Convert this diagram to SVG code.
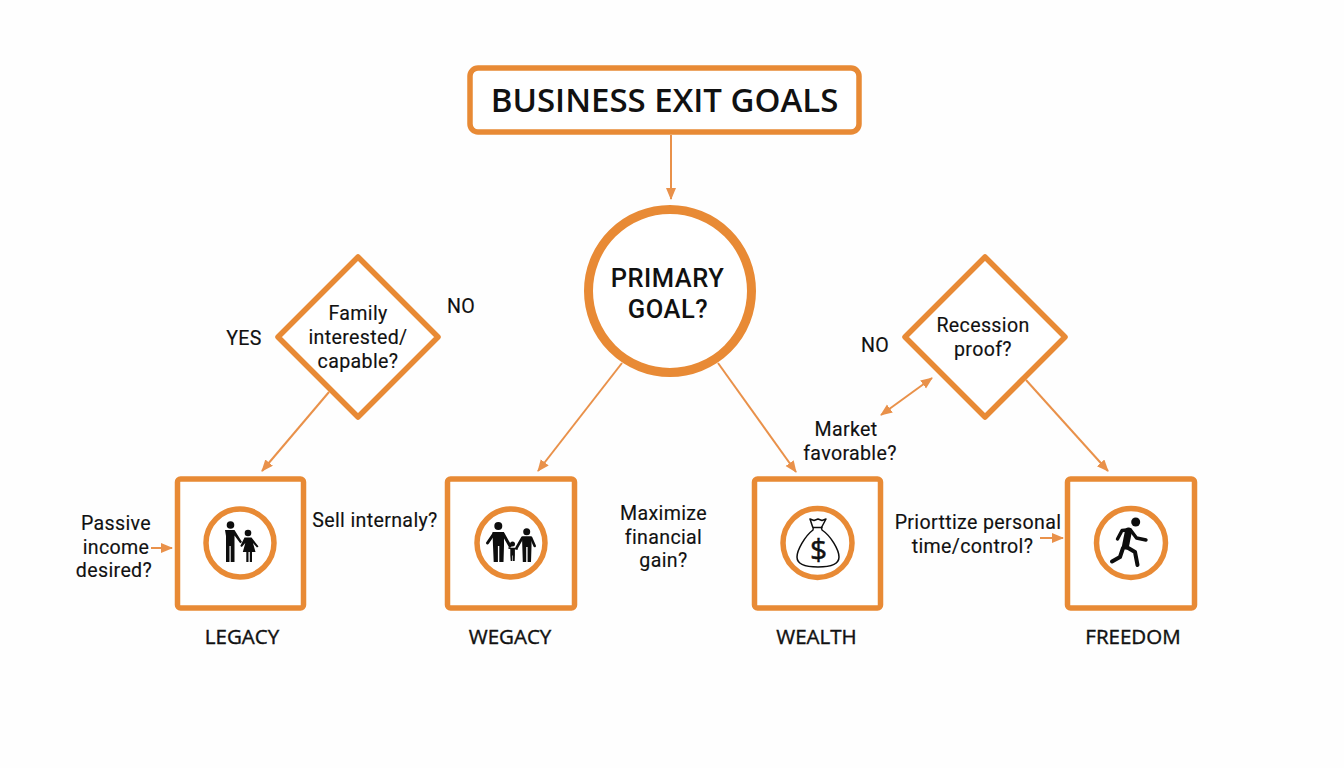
<svg xmlns="http://www.w3.org/2000/svg" width="1344" height="768" viewBox="0 0 1344 768">
<style>
.box{fill:#fff;stroke:#e88a35;stroke-width:5.5}
.ring{fill:#fff;stroke:#e88a35;stroke-width:5.5}
.conn{fill:none;stroke:#e9914a;stroke-width:2}
.t{font-family:Roboto,"Liberation Sans",sans-serif;font-size:19.6px;letter-spacing:.35px;fill:#111;stroke:#111;stroke-width:.15;text-anchor:middle}
.n{font-family:"Open Sans","Liberation Sans",sans-serif;font-size:20.5px;fill:#111;stroke:#111;stroke-width:.4;text-anchor:middle}
.big{font-family:"Open Sans","Liberation Sans",sans-serif;font-weight:600;fill:#111;text-anchor:middle}
.k{fill:#0d0d0d}
.l{fill:none;stroke:#0d0d0d;stroke-linecap:round;stroke-linejoin:round}
</style>
<defs>
<marker id="a" markerWidth="14" markerHeight="12" refX="11" refY="5" orient="auto-start-reverse" markerUnits="userSpaceOnUse"><path d="M0 0L12 5L0 10Z" fill="#e9914a"/></marker>
</defs>
<rect width="1344" height="768" fill="#fefefe"/>
<g id="connectors">
<path class="conn" marker-end="url(#a)" d="M671 135V199"/>
<path class="conn" marker-end="url(#a)" d="M622 363L538 471"/>
<path class="conn" marker-end="url(#a)" d="M718 363L796 472"/>
<path class="conn" marker-end="url(#a)" d="M329 392L262 471"/>
<path class="conn" marker-end="url(#a)" d="M1026 380L1108 471"/>
<path class="conn" marker-start="url(#a)" marker-end="url(#a)" d="M881 415L932 378"/>
<path class="conn" marker-end="url(#a)" d="M151 548H172"/>
<path class="conn" marker-end="url(#a)" d="M1040 538H1063"/>
</g>
<g id="title"><rect class="box" x="470" y="68" width="389" height="64" rx="8"/>
<text class="big" x="664.500" y="112" font-size="33">BUSINESS EXIT GOALS</text></g>
<g id="primary-goal"><circle cx="670" cy="291" r="81.500" fill="#fff" stroke="#e88a35" stroke-width="9"/>
<text class="big" style="font-family:Roboto,'Liberation Sans',sans-serif;font-weight:500;letter-spacing:.5px" font-size="25.500"><tspan x="667.500" y="287">PRIMARY</tspan><tspan x="668" y="317.500">GOAL?</tspan></text></g>
<g id="family-decision"><path class="box" stroke-linejoin="round" d="M358 257L438 337L358 417L278 337Z"/>
<text class="t"><tspan x="358" y="320">Family</tspan><tspan x="358" y="344">interested/</tspan><tspan x="358" y="367.500">capable?</tspan></text></g>
<g id="recession-decision"><path class="box" stroke-linejoin="round" d="M985 257L1065 337L985 417L905 337Z"/>
<text class="t"><tspan x="983" y="332">Recession</tspan><tspan x="983" y="356">proof?</tspan></text></g>
<g id="legacy"><rect class="box" x="177.500" y="479" width="126" height="129" rx="3"/>
<circle class="ring" cx="240" cy="543" r="34"/>
<circle class="k" cx="230.500" cy="525" r="3.800"/><path class="k" d="M225 530h9.500l7.500 12-1.800 1.300-5.700-7.700V562h-3.800V546h-1.200v16H226V536z"/>
<circle class="k" cx="248" cy="533" r="3.300"/><path class="k" d="M244.500 537.500h7l7 9-1.500 1-4-4.500 2.500 9h-3.500v10h-2.200v-10h-1.300v10h-2.200v-10h-3.500l2.500-9-3.500 4-1.500-1z"/>
<text class="n" x="242" y="644">LEGACY</text></g>
<g id="wegacy"><rect class="box" x="447.500" y="479" width="127" height="129" rx="3"/>
<circle class="ring" cx="511" cy="543" r="34"/>
<circle class="k" cx="498.300" cy="526" r="4"/>
<path class="l" stroke-width="3" d="M487.500 543L494 533.500H503L510 546"/>
<path class="k" d="M492.500 532h11.500v13.500l-.5 16.500h-4.200v-16h-1.400v16h-4.200l-.7-16.500z"/>
<circle class="k" cx="526.700" cy="531.700" r="3.500"/>
<path class="l" stroke-width="2.600" d="M516.500 548L522.500 537.500H531L534.700 546"/>
<path class="k" d="M522 537h9.500v9.500l-.5 15.500h-3.400v-15h-1.400v15h-3.400l-.5-15.500z"/>
<circle class="k" cx="512.500" cy="544" r="2.500"/>
<path class="l" stroke-width="1.600" d="M509 548L511 548.500H514.500L517 549"/>
<path class="k" d="M510.300 548h4.600v7.500l-.2 5.500h-1.700v-5.500h-.6v5.500h-1.700l-.4-5.500z"/>
<text class="n" x="510" y="644">WEGACY</text></g>
<g id="wealth"><rect class="box" x="754.500" y="479" width="126" height="129" rx="3"/>
<circle class="ring" cx="817.500" cy="543" r="34.500"/>
<path fill="#fff" stroke="#0d0d0d" stroke-width="1.500" stroke-linejoin="round" d="M810 519l4 1.500 4-1.500 4 1.500 4-1.500-4 7.500c-1 1.500-.5 2.500 0 3.500 9 6 17 20 17 27 0 7-8 10-21 10s-21-3-21-10c0-7 8-21 16-27 .5-1 .5-2-.5-3.500z"/>
<path fill="none" stroke="#0d0d0d" stroke-width="1.500" d="M813 527.500h9.500"/>
<text x="818.500" y="560" font-family="'Open Sans','Liberation Sans',sans-serif" font-size="30" fill="#111" stroke="#111" stroke-width=".5" text-anchor="middle">$</text>
<text class="n" x="816.500" y="644">WEALTH</text></g>
<g id="freedom"><rect class="box" x="1067.500" y="479" width="127" height="129" rx="3"/>
<circle class="ring" cx="1131" cy="543" r="34.500"/>
<circle class="k" cx="1135.700" cy="522" r="4.500"/>
<path class="l" stroke-width="7" d="M1128.500 531L1125.500 546"/>
<path class="l" stroke-width="3.400" d="M1127 530L1122 530.500L1117.500 539"/>
<path class="l" stroke-width="3.400" d="M1130.500 530L1136.500 538L1146 540"/>
<path class="l" stroke-width="4" d="M1126.500 547L1135 552L1137.500 565"/>
<path class="l" stroke-width="4" d="M1123 548L1120 557L1112 561.500"/>
<text class="n" x="1133" y="644">FREEDOM</text></g>
<g id="labels">
<text class="t" x="244" y="345">YES</text>
<text class="t" x="461" y="313">NO</text>
<text class="t" x="875" y="352">NO</text>
<text class="t"><tspan x="116" y="530">Passive</tspan><tspan x="116" y="553.500">income</tspan><tspan x="114" y="577">desired?</tspan></text>
<text class="t" x="375" y="527">Sell internaly?</text>
<text class="t"><tspan x="663.500" y="520">Maximize</tspan><tspan x="663.500" y="543.500">financial</tspan><tspan x="663.500" y="567">gain?</tspan></text>
<text class="t"><tspan x="846" y="436">Market</tspan><tspan x="850" y="459.500">favorable?</tspan></text>
<text class="t"><tspan x="978" y="529">Priorttize personal</tspan><tspan x="972.500" y="553">time/control?</tspan></text>
</g>
</svg>
